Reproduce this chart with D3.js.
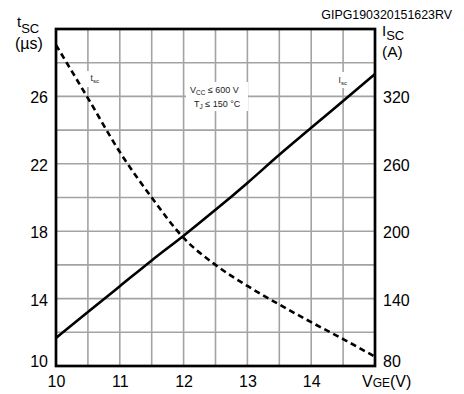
<!DOCTYPE html>
<html>
<head>
<meta charset="utf-8">
<script src="https://cdn.jsdelivr.net/npm/d3@7"></script>
<style>
  html, body { margin: 0; padding: 0; background: #fff; }
  svg { display: block; }
  text { font-family: "Liberation Sans", Arial, sans-serif; }
</style>
</head>
<body>
<svg id="chart" width="464" height="394"></svg>
<script>
// Gate-emitter voltage (V) sample points
const vge = [10, 10.5, 11, 11.5, 12, 12.5, 13, 13.5, 14, 14.5, 15];
// Short-circuit withstand time tsc (µs), dashed curve, left axis
const tsc = [29.05, 25.9, 22.7, 20.0, 17.6, 16.0, 14.75, 13.65, 12.6, 11.6, 10.55];
// Short-circuit current Isc (A), solid curve, right axis
const isc = [105, 128, 151, 174, 196, 219, 243, 268, 292, 316, 340];

const leftTicks = [10, 14, 18, 22, 26];
const rightTicks = [80, 140, 200, 260, 320];
const bottomTicks = [10, 11, 12, 13, 14];
const gridX = [10.5, 11, 11.5, 12, 12.5, 13, 13.5, 14, 14.5];
const gridY = [12, 14, 16, 18, 20, 22, 24, 26, 28];

const plot = { left: 56, right: 375, top: 29, bottom: 366 };

const svg = d3.select("#chart");

const x = d3.scaleLinear().domain([10, 15]).range([plot.left, plot.right]);
const yT = d3.scaleLinear().domain([10, 30]).range([plot.bottom, plot.top]);
const yI = d3.scaleLinear().domain([80, 380]).range([plot.bottom, plot.top]);

// grid
const grid = svg.append("g").attr("stroke", "#a3a3a3").attr("stroke-width", 1.6);
grid.selectAll("line.v").data(gridX).join("line")
  .attr("x1", d => x(d)).attr("x2", d => x(d))
  .attr("y1", plot.top).attr("y2", plot.bottom);
grid.selectAll("line.h").data(gridY).join("line")
  .attr("y1", d => yT(d)).attr("y2", d => yT(d))
  .attr("x1", plot.left).attr("x2", plot.right);

// white boxes behind the in-plot annotations
const boxes = [
  { x: 87, y: 71, w: 17, h: 16 },
  { x: 186, y: 82, w: 62, h: 29 },
  { x: 335, y: 72, w: 16, h: 16 }
];
svg.append("g").selectAll("rect").data(boxes).join("rect")
  .attr("x", d => d.x).attr("y", d => d.y)
  .attr("width", d => d.w).attr("height", d => d.h)
  .attr("fill", "#fff");

// curves
const lineT = d3.line().x((d, i) => x(vge[i])).y(d => yT(d)).curve(d3.curveMonotoneX);
const lineI = d3.line().x((d, i) => x(vge[i])).y(d => yI(d)).curve(d3.curveMonotoneX);

svg.append("path").datum(isc).attr("d", lineI)
  .attr("fill", "none").attr("stroke", "#000").attr("stroke-width", 2.6);
svg.append("path").datum(tsc).attr("d", lineT)
  .attr("fill", "none").attr("stroke", "#000").attr("stroke-width", 2.6)
  .attr("stroke-dasharray", "6,4");

// frame
svg.append("rect")
  .attr("x", plot.left).attr("y", plot.top)
  .attr("width", plot.right - plot.left).attr("height", plot.bottom - plot.top)
  .attr("fill", "none").attr("stroke", "#000").attr("stroke-width", 2.7);

// axes
function styleAxis(g) {
  g.select(".domain").remove();
  g.selectAll(".tick line").remove();
  g.selectAll(".tick text").attr("font-size", 16).attr("fill", "#000")
    .attr("font-family", "'Liberation Sans', Arial, sans-serif");
}
const fmt = d3.format("d");

const axL = svg.append("g").attr("transform", `translate(${plot.left},0)`)
  .call(d3.axisLeft(yT).tickValues(leftTicks).tickFormat(fmt).tickSize(0).tickPadding(8))
  .call(styleAxis);
axL.selectAll(".tick text").filter(d => d === 10).attr("dy", "0em").attr("y", 0);
axL.selectAll(".tick text").filter(d => d !== 10).attr("dy", "0.4em");

const axR = svg.append("g").attr("transform", `translate(${plot.right},0)`)
  .call(d3.axisRight(yI).tickValues(rightTicks).tickFormat(fmt).tickSize(0).tickPadding(8))
  .call(styleAxis);
axR.selectAll(".tick text").filter(d => d === 80).attr("dy", "0em").attr("y", 0);
axR.selectAll(".tick text").filter(d => d !== 80).attr("dy", "0.4em");

const axB = svg.append("g").attr("transform", `translate(0,${plot.bottom})`)
  .call(d3.axisBottom(x).tickValues(bottomTicks).tickFormat(fmt).tickSize(0).tickPadding(10))
  .call(styleAxis);
axB.selectAll(".tick text").attr("dy", "0").attr("y", 21);

// x axis title
const xt = svg.append("text").attr("x", 362).attr("y", 387).attr("font-size", 16);
xt.append("tspan").text("V");
xt.append("tspan").attr("font-size", 12).text("GE");
xt.append("tspan").text("(V)");

// left axis title
const lt = svg.append("text").attr("x", 17).attr("y", 27).attr("font-size", 15);
lt.append("tspan").text("t");
lt.append("tspan").attr("font-size", 13).attr("dy", 6).text("SC");
svg.append("text").attr("x", 15).attr("y", 49).attr("font-size", 16).text("(µs)");

// right axis title
const rt = svg.append("text").attr("x", 382).attr("y", 36).attr("font-size", 15);
rt.append("tspan").text("I");
rt.append("tspan").attr("font-size", 13).attr("dy", 4).text("SC");
svg.append("text").attr("x", 382).attr("y", 57).attr("font-size", 15.5).text("(A)");

// drawing code
svg.append("text").attr("x", 452).attr("y", 19).attr("text-anchor", "end")
  .attr("font-size", 12.4).text("GIPG190320151623RV");

// in-plot annotations
const small = "Lato, 'Open Sans', sans-serif";
function sub(base, subTxt, px, py, fs) {
  const el = svg.append("text").attr("x", px).attr("y", py)
    .attr("font-size", fs).attr("font-family", small).attr("fill", "#222");
  el.append("tspan").text(base);
  el.append("tspan").attr("font-size", fs * 0.72).attr("dy", 2).text(subTxt);
  return el;
}
sub("t", "sc", 90.5, 81, 8.5);
sub("I", "sc", 338.5, 83, 8.5);

const v1 = svg.append("text").attr("x", 190).attr("y", 93)
  .attr("font-size", 9).attr("font-family", small).attr("fill", "#222");
v1.append("tspan").text("V");
v1.append("tspan").attr("font-size", 6.5).attr("dy", 2).text("CC");
v1.append("tspan").attr("dy", -2).text(" ≤  600 V");

const v2 = svg.append("text").attr("x", 194).attr("y", 107)
  .attr("font-size", 9).attr("font-family", small).attr("fill", "#222");
v2.append("tspan").text("T");
v2.append("tspan").attr("font-size", 6.5).attr("dy", 2).text("J");
v2.append("tspan").attr("dy", -2).text(" ≤ 150 °C");
</script>
</body>
</html>
